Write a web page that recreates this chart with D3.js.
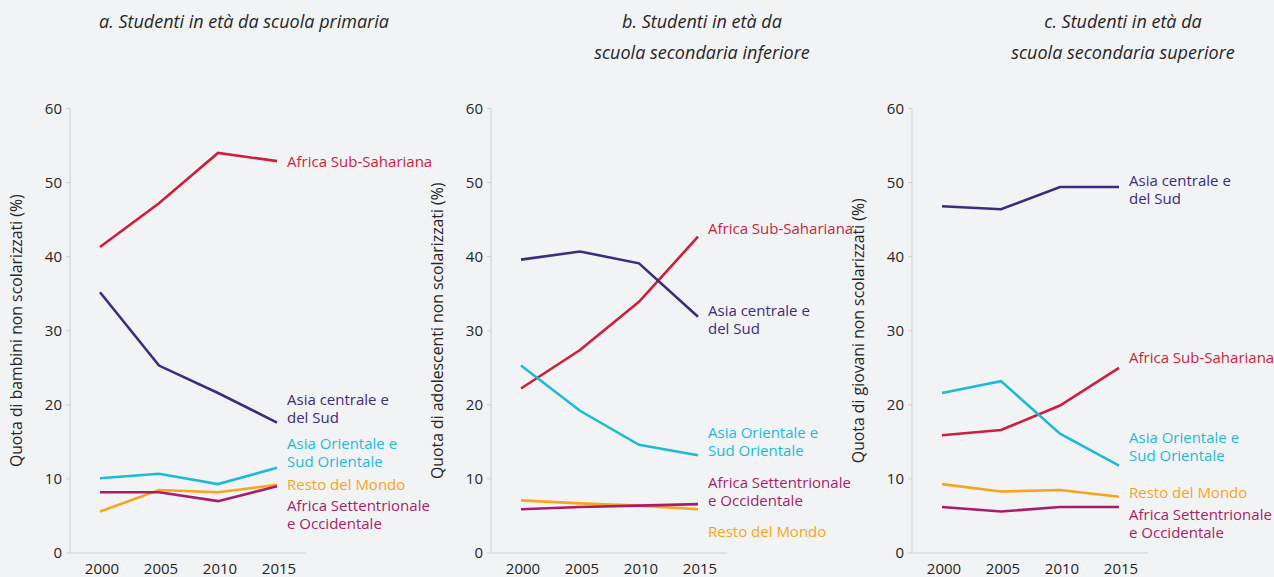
<!DOCTYPE html>
<html>
<head>
<meta charset="utf-8">
<script src="https://cdn.jsdelivr.net/npm/d3@7.9.0/dist/d3.min.js"></script>
<style>
  html, body { margin: 0; padding: 0; background: #f2f3f5; }
  svg { display: block; font-family: "Open Sans", sans-serif; }
</style>
</head>
<body>
<svg width="1274" height="577"></svg>
<script>
// data
const years = [2000, 2005, 2010, 2015];
const yTicks = [0, 10, 20, 30, 40, 50, 60];
const regions = ["Africa Sub-Sahariana", "Asia centrale e del Sud", "Asia Orientale e Sud Orientale", "Resto del Mondo", "Africa Settentrionale e Occidentale"];
const regionLines = [["Africa Sub-Sahariana"], ["Asia centrale e", "del Sud"], ["Asia Orientale e", "Sud Orientale"], ["Resto del Mondo"], ["Africa Settentrionale", "e Occidentale"]];
const colors = ["#cc1f3c", "#3d2b7d", "#1dbbd6", "#f9a51b", "#a81d6a"];

const titles = [
  ["a. Studenti in età da scuola primaria"],
  ["b. Studenti in età da", "scuola secondaria inferiore"],
  ["c. Studenti in età da", "scuola secondaria superiore"]
];
const yTitles = [
  "Quota di bambini non scolarizzati (%)",
  "Quota di adolescenti non scolarizzati (%)",
  "Quota di giovani non scolarizzati (%)"
];

// values per panel, one array per region (same order as regions)
const primary = [
  [41.3, 47.2, 54.0, 52.9],
  [35.2, 25.3, 21.6, 17.6],
  [10.1, 10.7, 9.3, 11.5],
  [5.6, 8.5, 8.2, 9.2],
  [8.2, 8.2, 7.0, 9.0]
];
const lowerSecondary = [
  [22.2, 27.4, 33.9, 42.7],
  [39.6, 40.7, 39.1, 31.9],
  [25.3, 19.2, 14.6, 13.2],
  [7.1, 6.7, 6.4, 5.9],
  [5.9, 6.2, 6.4, 6.6]
];
const upperSecondary = [
  [15.9, 16.6, 19.9, 25.0],
  [46.8, 46.4, 49.4, 49.4],
  [21.6, 23.2, 16.1, 11.8],
  [9.3, 8.3, 8.5, 7.6],
  [6.2, 5.6, 6.2, 6.2]
];
const panels = [primary, lowerSecondary, upperSecondary];

// label anchor (value level of first line's centre), per panel per region
const labelAt = [
  [52.8, 20.7, 14.7, 9.2, 6.4],
  [43.8, 32.7, 16.2, 2.9, 9.5],
  [26.3, 50.3, 15.5, 8.2, 5.1]
];

const svg = d3.select("svg");
const axisX0 = [70, 491, 912];
const y = d3.scaleLinear().domain([0, 60]).range([553, 108.5]);
const ink = "#262626";

panels.forEach((series, p) => {
  const ax = axisX0[p];
  const x = d3.scaleLinear().domain([2000, 2015]).range([ax + 30, ax + 207]);
  const g = svg.append("g");

  // title
  const cx = p === 0 ? 244 : ax + 211;
  const t = g.append("text")
    .attr("x", cx).attr("y", 28)
    .attr("text-anchor", "middle")
    .attr("font-style", "italic")
    .attr("font-size", 18)
    .attr("fill", ink);
  titles[p].forEach((line, i) => {
    t.append("tspan").attr("x", cx).attr("dy", i === 0 ? 0 : 31).text(line);
  });

  // axes
  g.append("line")
    .attr("x1", ax).attr("x2", ax)
    .attr("y1", y(60)).attr("y2", y(0))
    .attr("stroke", "#cfd0d2").attr("stroke-width", 1);
  g.append("line")
    .attr("x1", ax).attr("x2", ax + 236)
    .attr("y1", y(0)).attr("y2", y(0))
    .attr("stroke", "#cfd0d2").attr("stroke-width", 1);

  yTicks.forEach(v => {
    g.append("line")
      .attr("x1", ax - 4).attr("x2", ax)
      .attr("y1", y(v)).attr("y2", y(v))
      .attr("stroke", "#cfd0d2");
    g.append("text")
      .attr("x", ax - 8).attr("y", y(v))
      .attr("dy", "0.35em")
      .attr("text-anchor", "end")
      .attr("font-size", 15)
      .attr("fill", ink)
      .text(v);
  });

  years.forEach(yr => {
    g.append("text")
      .attr("x", x(yr) + 2).attr("y", 574)
      .attr("text-anchor", "middle")
      .attr("font-size", 15)
      .attr("fill", ink)
      .text(yr);
  });

  g.append("text")
    .attr("transform", `translate(${ax - 48},${y(30)}) rotate(-90)`)
    .attr("text-anchor", "middle")
    .attr("font-size", 15.8)
    .attr("fill", ink)
    .text(yTitles[p]);

  // lines
  const line = d3.line().x((d, i) => x(years[i])).y(d => y(d));
  series.forEach((vals, r) => {
    g.append("path")
      .datum(vals)
      .attr("d", line)
      .attr("fill", "none")
      .attr("stroke", colors[r])
      .attr("stroke-width", 2.6)
      .attr("stroke-linejoin", "miter");
  });

  // labels
  regionLines.forEach((lines, r) => {
    const lt = g.append("text")
      .attr("x", ax + 217).attr("y", y(labelAt[p][r]))
      .attr("font-size", 15)
      .attr("fill", colors[r]);
    lines.forEach((l, i) => {
      lt.append("tspan").attr("x", ax + 217).attr("dy", i === 0 ? "0.35em" : 18).text(l);
    });
  });
});
</script>
</body>
</html>
